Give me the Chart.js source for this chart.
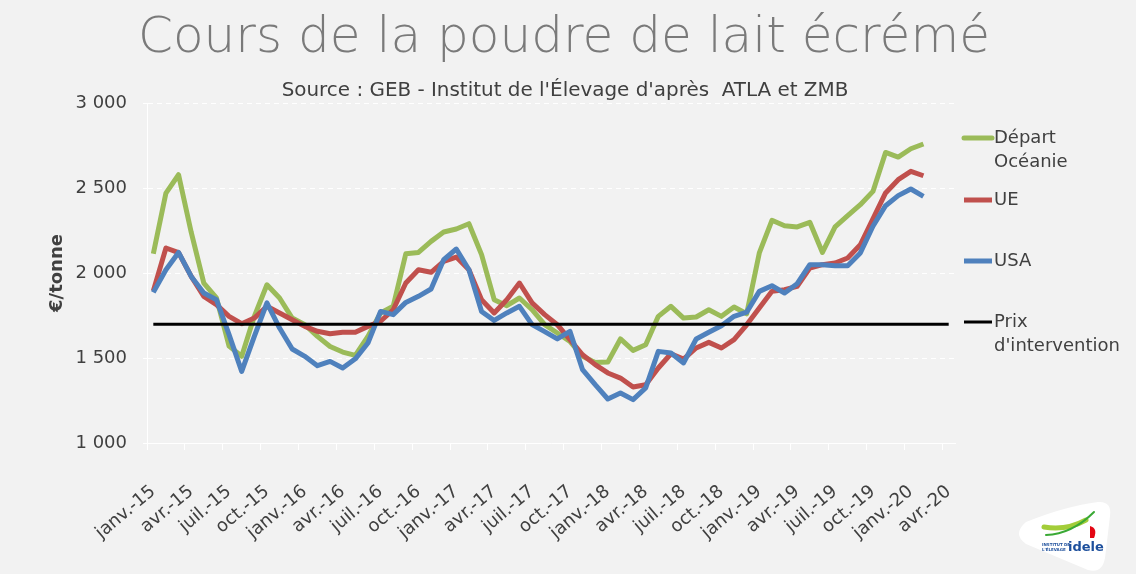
<!DOCTYPE html>
<html lang="fr">
<head>
<meta charset="utf-8">
<title>Cours de la poudre de lait écrémé</title>
<script src="https://cdn.jsdelivr.net/npm/chart.js@4.4.1/dist/chart.umd.min.js"></script>
<style>
  html, body { margin: 0; padding: 0; background: #f2f2f2; }
  #wrap { position: relative; width: 1136px; height: 574px; }
</style>
</head>
<body>
<div id="wrap"><canvas id="chart"></canvas></div>
<script>
// axe des mois : janv.-15 -> avr.-20
const moisNoms = ['janv.', 'févr.', 'mars', 'avr.', 'mai', 'juin', 'juil.', 'août', 'sept.', 'oct.', 'nov.', 'déc.'];
const annees = ['15', '16', '17', '18', '19', '20'];
const nbMois = 64;

// €/tonne, janv.-15 -> févr.-20
const oceanie = [2113, 2470, 2578, 2240, 1940, 1853, 1570, 1510, 1745, 1931, 1853, 1735,
  1696, 1627, 1568, 1535, 1515, 1627, 1765, 1804, 2113, 2121, 2186, 2241,
  2259, 2290, 2108, 1843, 1808, 1853, 1784, 1696, 1647, 1598, 1510, 1474,
  1476, 1612, 1545, 1578, 1745, 1804, 1735, 1741, 1784, 1745, 1800, 1760,
  2118, 2310, 2278, 2271, 2298, 2121, 2271, 2337, 2402, 2480, 2709, 2682,
  2731, 2759];
const ue = [1895, 2147, 2120, 1980, 1863, 1814, 1745, 1702, 1735, 1804, 1765, 1725,
  1686, 1657, 1643, 1651, 1651, 1686, 1716, 1784, 1941, 2019, 2004, 2068,
  2094, 2019, 1843, 1765, 1843, 1941, 1824, 1755, 1696, 1608, 1519, 1461,
  1412, 1382, 1329, 1343, 1441, 1525, 1494, 1559, 1592, 1559, 1608, 1695,
  1794, 1892, 1902, 1921, 2029, 2049, 2059, 2088, 2166, 2318, 2471, 2549,
  2598, 2572];
const usa = [1886, 2019, 2121, 1980, 1882, 1843, 1637, 1421, 1627, 1824, 1676, 1553,
  1510, 1455, 1480, 1441, 1495, 1588, 1774, 1755, 1827, 1863, 1906, 2078,
  2141, 2019, 1774, 1721, 1765, 1804, 1696, 1655, 1612, 1657, 1431, 1343,
  1259, 1294, 1255, 1324, 1539, 1529, 1471, 1612, 1651, 1690, 1745, 1770,
  1892, 1925, 1882, 1937, 2049, 2049, 2043, 2043, 2118, 2275, 2396, 2455,
  2494, 2451];
const prixIntervention = 1698;

const titre = 'Cours de la poudre de lait écrémé';
const sousTitre = "Source : GEB - Institut de l'Élevage d'après  ATLA et ZMB";

const mois = [];
for (const a of annees) {
  for (const m of moisNoms) {
    if (mois.length < nbMois) mois.push(m + '-' + a);
  }
}

const police = '"DejaVu Sans", "Liberation Sans", sans-serif';
const gris = '#404040';

function fr(n) { return String(n).replace(/\B(?=(\d{3})+(?!\d))/g, ' '); }

function fitFont(ctx, text, width, weight) {
  ctx.font = `${weight} 100px ${police}`;
  return 100 * width / ctx.measureText(text).width;
}

// titre, sous-titre, légende et logo dessinés à la main
const decor = {
  id: 'decor',
  afterDraw(chart) {
    const ctx = chart.ctx;
    ctx.save();
    ctx.textBaseline = 'middle';
    ctx.textAlign = 'center';

    let s = fitFont(ctx, titre, 852, 200);
    ctx.font = `200 ${s}px ${police}`;
    ctx.fillStyle = '#7a7a7a';
    ctx.fillText(titre, 564, 39);

    s = fitFont(ctx, sousTitre, 567, 400);
    ctx.font = `400 ${s}px ${police}`;
    ctx.fillStyle = gris;
    ctx.fillText(sousTitre, 565, 91);

    // légende
    ctx.textAlign = 'left';
    ctx.font = `18px ${police}`;
    const ys = [138, 200, 261, 322];
    chart.data.datasets.forEach((ds, i) => {
      const y = ys[i];
      ctx.strokeStyle = ds.borderColor;
      ctx.lineWidth = ds.legendWidth;
      ctx.lineCap = i === 0 ? 'round' : 'butt';
      ctx.beginPath();
      ctx.moveTo(964, y);
      ctx.lineTo(992, y);
      ctx.stroke();
      ctx.fillStyle = gris;
      ds.label.split('\n').forEach((l, k) => ctx.fillText(l, 994, y + k * 24));
    });

    // logo idele
    ctx.fillStyle = '#ffffff';
    ctx.beginPath();
    ctx.moveTo(1026, 522);
    ctx.quadraticCurveTo(1066, 506, 1098, 502);
    ctx.quadraticCurveTo(1112, 501, 1110, 516);
    ctx.lineTo(1105, 558);
    ctx.quadraticCurveTo(1102, 574, 1088, 570);
    ctx.lineTo(1026, 544);
    ctx.quadraticCurveTo(1012, 534, 1026, 522);
    ctx.fill();
    ctx.strokeStyle = '#a3cd39';
    ctx.lineWidth = 5;
    ctx.lineCap = 'round';
    ctx.beginPath();
    ctx.moveTo(1044, 527);
    ctx.quadraticCurveTo(1066, 531, 1086, 520);
    ctx.stroke();
    ctx.strokeStyle = '#3aa935';
    ctx.lineWidth = 2;
    ctx.beginPath();
    ctx.moveTo(1046, 535);
    ctx.quadraticCurveTo(1072, 534, 1094, 512);
    ctx.stroke();
    ctx.fillStyle = '#e30613';
    ctx.beginPath();
    ctx.moveTo(1090, 526);
    ctx.quadraticCurveTo(1098, 528, 1094, 538);
    ctx.lineTo(1090, 538);
    ctx.closePath();
    ctx.fill();
    ctx.fillStyle = '#1d4f9c';
    ctx.font = `bold 13px ${police}`;
    ctx.fillText('idele', 1068, 548);
    ctx.font = `bold 4px ${police}`;
    ctx.fillText('INSTITUT DE', 1042, 545);
    ctx.fillText("L'ÉLEVAGE", 1042, 550);
    ctx.restore();
  }
};

new Chart(document.getElementById('chart'), {
  type: 'line',
  data: {
    labels: mois,
    datasets: [
      { label: 'Départ\nOcéanie', data: oceanie, borderColor: '#9bbb59', borderWidth: 5, legendWidth: 5, order: 3 },
      { label: 'UE', data: ue, borderColor: '#c0504d', borderWidth: 5, legendWidth: 5, order: 2 },
      { label: 'USA', data: usa, borderColor: '#4f81bd', borderWidth: 5, legendWidth: 5, order: 1 },
      { label: "Prix\nd'intervention",
        data: [{ x: mois[0], y: prixIntervention }, { x: mois[nbMois - 1], y: prixIntervention }],
        borderColor: '#000000', borderWidth: 3, legendWidth: 3, order: 0 }
    ]
  },
  options: {
    responsive: true,
    maintainAspectRatio: false,
    animation: false,
    layout: { padding: { top: 103, right: 181, bottom: 0, left: 0 } },
    elements: {
      point: { radius: 0, hoverRadius: 0 },
      line: { tension: 0, borderJoinStyle: 'round', borderCapStyle: 'butt', fill: false }
    },
    plugins: {
      legend: { display: false },
      title: { display: false },
      tooltip: { enabled: false }
    },
    scales: {
      x: {
        type: 'category',
        offset: true,
        grid: {
          offset: true,
          drawOnChartArea: false,
          tickLength: 7,
          color: c => (c.index % 3 === 0 && c.index < nbMois) ? '#ffffff' : 'rgba(0,0,0,0)'
        },
        border: { display: true, color: '#ffffff', width: 1 },
        ticks: {
          autoSkip: false,
          minRotation: 40,
          maxRotation: 40,
          padding: 31,
          color: gris,
          font: { family: police, size: 18 },
          callback: (v, i) => (i % 3 === 0 ? mois[i] : '')
        },
        afterFit: s => { s.height = 131; }
      },
      y: {
        min: 1000,
        max: 3000,
        grid: { color: '#ffffff', lineWidth: 1, tickLength: 4, tickColor: '#ffffff' },
        border: { display: true, color: '#ffffff', width: 1, dash: [5, 4] },
        ticks: {
          stepSize: 500,
          padding: 16,
          color: gris,
          font: { family: police, size: 18 },
          callback: v => fr(v)
        },
        title: {
          display: true,
          text: '€/tonne',
          color: gris,
          font: { family: police, size: 18, weight: 'bold' },
          padding: { top: 47, bottom: 0 }
        },
        afterFit: s => { s.width = 147; }
      }
    }
  },
  plugins: [decor]
});
</script>
</body>
</html>
